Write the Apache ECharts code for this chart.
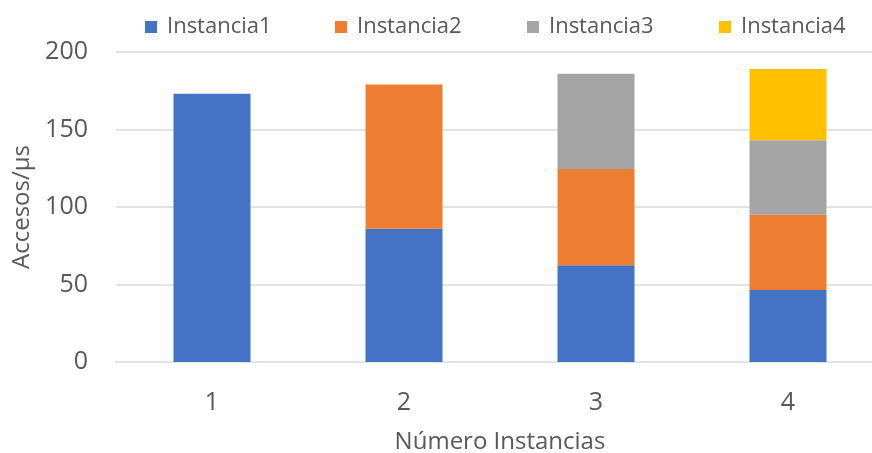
<!DOCTYPE html>
<html>
<head>
<meta charset="utf-8">
<script src="https://cdn.jsdelivr.net/npm/echarts@6/dist/echarts.min.js"></script>
<style>
  html, body { margin: 0; padding: 0; background: #ffffff; }
  #chart { width: 872px; height: 453px; }
</style>
</head>
<body>
<div id="chart"></div>
<script>
// Number of instances on the x axis
const categories = ['1', '2', '3', '4'];
// Access rate (accesses per microsecond) contributed by each instance
const instancia1 = [173, 86, 62.5, 46.5];
const instancia2 = [null, 93, 62, 48.5];
const instancia3 = [null, null, 61.5, 48];
const instancia4 = [null, null, null, 46];
const seriesNames = ['Instancia1', 'Instancia2', 'Instancia3', 'Instancia4'];
const seriesValues = [instancia1, instancia2, instancia3, instancia4];
const colors = ['#4472C4', '#ED7D31', '#A5A5A5', '#FFC000'];

const FONT = '"Open Sans", sans-serif';
const TEXT = '#595959';
const legendLeft = [145, 335, 527, 719];

const chart = echarts.init(document.getElementById('chart'));
chart.setOption({
  animation: false,
  color: colors,
  textStyle: { fontFamily: FONT },
  legend: seriesNames.map((name, i) => ({
    data: [name],
    left: legendLeft[i],
    top: 16,
    padding: 0,
    itemWidth: 12,
    itemHeight: 12,
    icon: 'rect',
    selectedMode: false,
    textStyle: { fontSize: 22, color: TEXT, fontFamily: FONT, padding: [0, 0, 0, 5] }
  })),
  grid: { left: 116, top: 52, width: 768, height: 310, outerBoundsMode: 'none', containLabel: false },
  xAxis: {
    type: 'category',
    data: categories,
    axisLine: { lineStyle: { color: '#e3e3e3', width: 2 } },
    axisTick: { show: false },
    axisLabel: { fontSize: 25, color: TEXT, margin: 28, fontFamily: FONT },
    name: 'Número Instancias',
    nameLocation: 'middle',
    nameGap: 68,
    nameTextStyle: { fontSize: 24, color: TEXT, fontFamily: FONT }
  },
  yAxis: {
    type: 'value',
    min: 0,
    max: 200,
    interval: 50,
    axisLine: { show: false },
    axisTick: { show: false },
    splitLine: { lineStyle: { color: '#e3e3e3', width: 2 } },
    axisLabel: { fontSize: 25, color: TEXT, margin: 28, fontFamily: FONT },
    name: 'Accesos/µs',
    nameLocation: 'middle',
    nameRotate: 90,
    nameGap: 80,
    nameTextStyle: { fontSize: 24, color: TEXT, fontFamily: FONT }
  },
  series: seriesNames.map((name, i) => ({
    name: name,
    type: 'bar',
    stack: 'total',
    barWidth: 77,
    data: seriesValues[i],
    itemStyle: { color: colors[i] }
  }))
});
</script>
</body>
</html>
